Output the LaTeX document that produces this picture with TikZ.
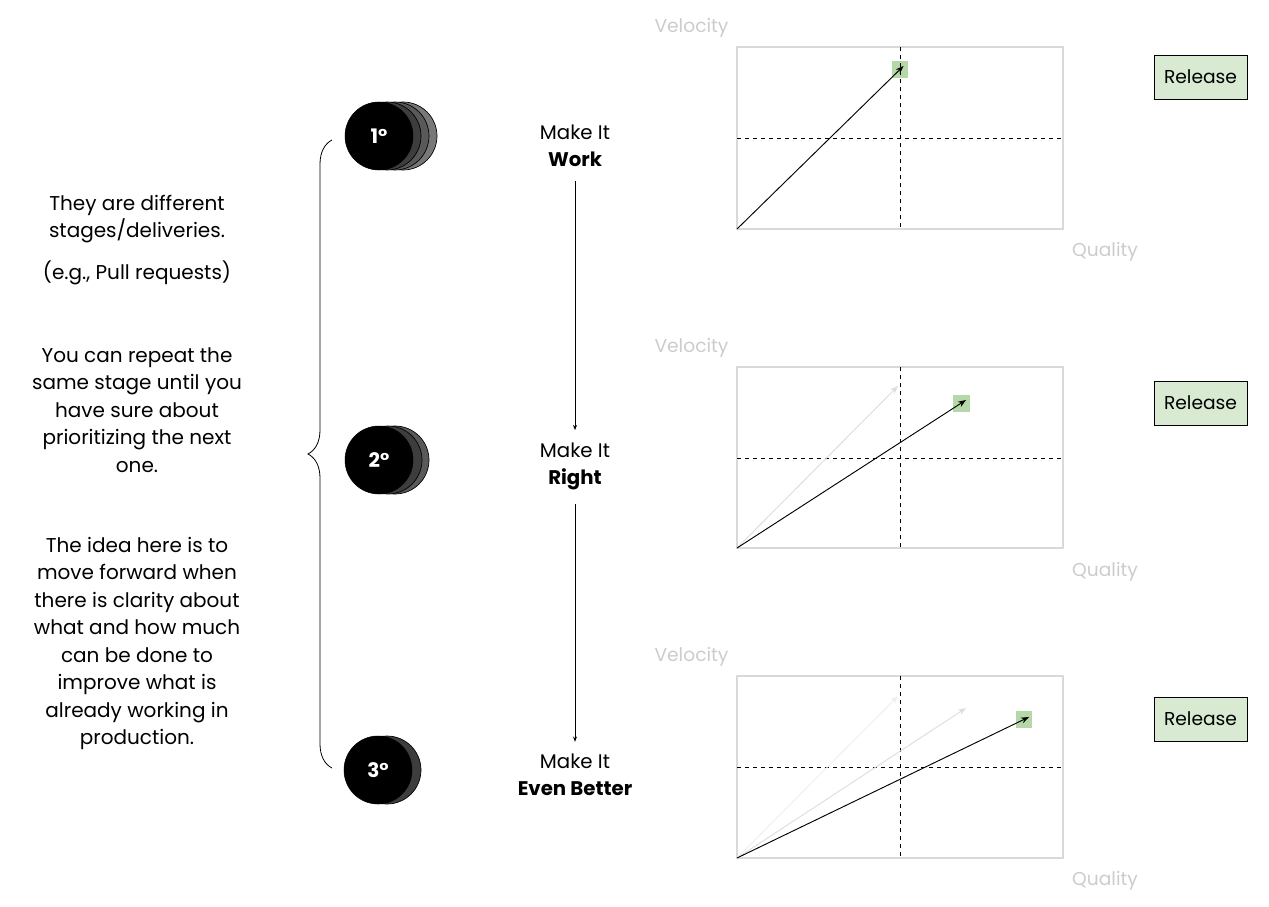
\documentclass[tikz,border=0pt]{standalone}
\usepackage{fontspec}
\setmainfont{Poppins}
\usetikzlibrary{arrows.meta,positioning,decorations.pathreplacing}
\definecolor{relfill}{HTML}{D9EAD3}
\definecolor{hitfill}{HTML}{B6D7A8}
\definecolor{axisgray}{HTML}{CCCCCC}
\definecolor{framegray}{HTML}{D9D9D9}
\definecolor{oldvec}{HTML}{DDDDDD}
\definecolor{oldervec}{HTML}{EEEEEE}

\begin{document}
\begin{tikzpicture}[x=0.75pt,y=-0.75pt,
  note/.style={align=center,inner sep=0pt,
    font=\fontsize{15}{20.6}\selectfont},
  stage/.style={circle,draw=black,fill=black,minimum size=51pt,
    inner sep=0pt,text=white,font=\fontsize{15}{18}\selectfont\bfseries},
  ghost/.style={circle,draw=black,line width=0.5pt,minimum size=51pt,
    inner sep=0pt},
  phase/.style={align=center,inner sep=0pt,
    font=\fontsize{14.8}{20.3}\selectfont},
  flow/.style={-{Stealth[length=4pt,width=3pt]},line width=0.6pt,
    shorten <=11pt,shorten >=9pt},
  frame/.style={draw=framegray,line width=0.8pt},
  guide/.style={dashed,line width=0.7pt},
  axis/.style={text=axisgray,inner sep=0pt,
    font=\fontsize{14}{17}\selectfont},
  vec/.style={-{Stealth[length=6pt,width=4.5pt]},line width=0.7pt},
  hit/.style={fill=hitfill,minimum size=12.5pt,inner sep=0pt},
  release/.style={draw=black,fill=relfill,line width=0.6pt,
    minimum width=69.75pt,minimum height=33pt,
    font=\fontsize{14}{17}\selectfont}
]
\useasboundingbox (0,0) rectangle (1269,906);

\node[note] (n1) at (137,219) {They are different\\stages/deliveries.};
\node[note] (n1b) at (137,273) {(e.g., Pull requests)};
\node[note] (n2) at (137,410) {You can repeat the\\same stage until you\\
  have sure about\\prioritizing the next\\one.};
\node[note] (n3) at (137,643.5) {The idea here is to\\move forward when\\
  there is clarity about\\what and how much\\can be done to\\
  improve what is\\already working in\\production.};

\coordinate (bt) at (332,140);
\coordinate (bb) at (332,768);
\draw[line width=0.6pt,decorate,decoration={brace,amplitude=18pt}]
  (bb) -- (bt);

\node[ghost,fill=black!53] (g13) at (403,136) {};
\node[ghost,fill=black!65] (g12) at (395,136) {};
\node[ghost,fill=black!76] (g11) at (387,136) {};
\node[stage] (s1) at (379,136) {1°};
\node[ghost,fill=black!65] (g22) at (395,460) {};
\node[ghost,fill=black!76] (g21) at (388,460) {};
\node[stage] (s2) at (379,460) {2°};
\node[ghost,fill=black!76] (g31) at (387,770) {};
\node[stage] (s3) at (378,770) {3°};

\node[phase] (p1) at (575,145.5) {Make It\\\textbf{Work}};
\node[phase] (p2) at (575,466) {Make It\\\textbf{Right}};
\node[phase] (p3) at (575,775) {Make It\\\textbf{Even Better}};
\draw[flow] (p1) -- (p2);
\draw[flow] (p2) -- (p3);

\node[axis] (v1) at (691.5,28) {Velocity};
\node[axis] (q1) at (1105,252) {Quality};
\draw[frame] (737,47) rectangle (1063,229);
\node[hit] (h1) at (900,69.5) {};
\draw[guide] (900,47) -- (900,229);
\draw[guide] (737,138) -- (1063,138);
\coordinate (o1) at (737,229);
\coordinate (e1) at (903.5,66);
\draw[vec] (o1) -- (e1);
\node[release] (r1) at (1200.5,77) {\raisebox{-1pt}{Release}};

\node[axis] (v2) at (691.5,348) {Velocity};
\node[axis] (q2) at (1105,572) {Quality};
\draw[frame] (737,367) rectangle (1063,548);
\node[hit] (h2) at (961.5,403.5) {};
\draw[guide] (900,367) -- (900,548);
\draw[guide] (737,458) -- (1063,458);
\coordinate (o2) at (737,548);
\coordinate (e2a) at (898,386);
\coordinate (e2) at (966,400);
\draw[vec,oldvec] (o2) -- (e2a);
\draw[vec] (o2) -- (e2);
\node[release] (r2) at (1200.5,403) {\raisebox{-1pt}{Release}};

\node[axis] (v3) at (691.5,657) {Velocity};
\node[axis] (q3) at (1105,881) {Quality};
\draw[frame] (737,676) rectangle (1063,858);
\node[hit] (h3) at (1024,719.5) {};
\draw[guide] (900,676) -- (900,858);
\draw[guide] (737,767) -- (1063,767);
\coordinate (o3) at (737,858);
\coordinate (e3b) at (898,696);
\coordinate (e3a) at (966,708);
\coordinate (e3) at (1029,717);
\draw[vec,oldervec] (o3) -- (e3b);
\draw[vec,oldvec] (o3) -- (e3a);
\draw[vec] (o3) -- (e3);
\node[release] (r3) at (1200.5,719) {\raisebox{-1pt}{Release}};
\end{tikzpicture}
\end{document}
